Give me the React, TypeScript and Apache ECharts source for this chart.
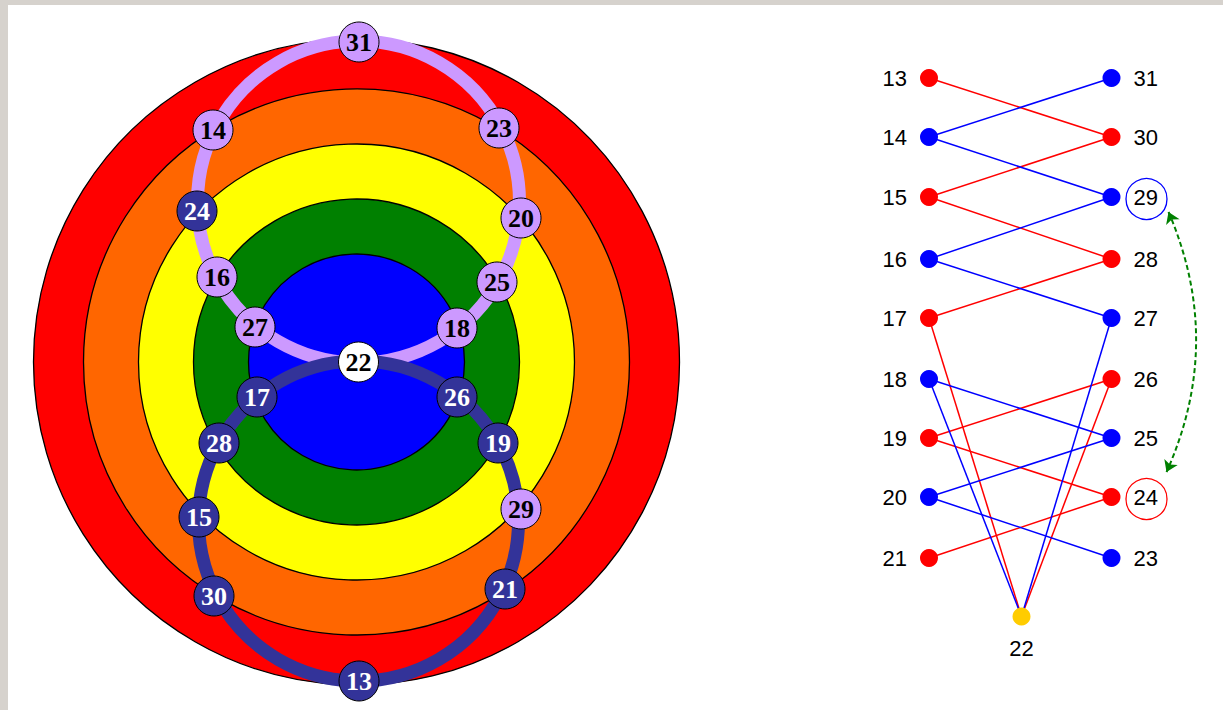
import React, { useEffect, useRef } from "react";
import * as echarts from "echarts";

const W = 1223;
const H = 710;

// ---------- Left diagram: concentric rings ----------
const ringCenter = [356.5, 362];
const ringRadii = [323, 273, 218, 163, 108];
const ringColors = ["#ff0000", "#ff6600", "#ffff00", "#008000", "#0000ff"];

// ---------- Left diagram: the two loops (circles) ----------
const loopCenterX = [358.5, 358.5];
const loopCenterY = [202, 521];
const loopRadius = [161, 160];
const loopNames = ["purple", "navy"];

// ---------- Left diagram: nodes on the two loops ----------
const leftNodeIds = [31, 14, 23, 24, 20, 16, 25, 27, 18, 22, 17, 26, 28, 19, 15, 29, 30, 21, 13];
const leftNodeX = [359, 213, 499, 197, 521, 217, 497, 255, 457, 358.5, 257, 457, 219, 498, 199, 521, 214, 505, 359];
const leftNodeY = [42, 130, 128, 211, 218, 277, 282, 327, 328, 362, 397, 397, 443, 443, 517, 509, 596, 589, 681];

const redGroup = [13, 15, 17, 19, 21, 30, 28, 26, 24];
const blueGroup = [14, 16, 18, 20, 31, 29, 27, 25, 23];
const centerId = 22;

// ---------- Right diagram ----------
const leftColumn = [13, 14, 15, 16, 17, 18, 19, 20, 21];
const rightColumn = [31, 30, 29, 28, 27, 26, 25, 24, 23];
const rowY = [78, 137, 197, 259, 318, 379, 438, 497, 558];
const leftColX = 929;
const rightColX = 1111.5;
const hubPos = [1021.5, 616.5];

const redEdges = [
  [13, 30], [15, 30], [15, 28], [17, 28], [17, 22],
  [19, 26], [19, 24], [21, 24], [26, 22],
];
const blueEdges = [
  [14, 31], [14, 29], [16, 29], [16, 27], [18, 25],
  [18, 22], [20, 25], [20, 23], [27, 22],
];
const circledIds = [29, 24];
const swapPair = [29, 24];

const PURPLE = "#cc99ff";
const NAVY = "#333399";
const RED = "#ff0000";
const BLUE = "#0000ff";
const loopColors = [PURPLE, NAVY];

function rightPos(id: number): number[] {
  if (id === centerId) return hubPos;
  let i = leftColumn.indexOf(id);
  if (i >= 0) return [leftColX, rowY[i]];
  i = rightColumn.indexOf(id);
  return [rightColX, rowY[i]];
}

function isRed(id: number) {
  return redGroup.indexOf(id) >= 0;
}

export default function App() {
  const ref = useRef<HTMLDivElement>(null);

  useEffect(() => {
    if (!ref.current) return;
    const chart = echarts.init(ref.current, undefined, { renderer: "svg" });

    const leftNodeData = leftNodeIds.map((id, i) => {
      let fill = PURPLE;
      let txt = "#000";
      if (id === centerId) {
        fill = "#ffffff";
      } else if (isRed(id)) {
        fill = NAVY;
        txt = "#ffffff";
      }
      return {
        name: String(id),
        value: [leftNodeX[i], leftNodeY[i]],
        itemStyle: { color: fill },
        label: { color: txt },
      };
    });

    const edgeData = (edges: number[][]) =>
      edges.map((e) => ({ coords: [rightPos(e[0]), rightPos(e[1])] }));

    const dotData = [
      ...leftColumn.map((id, i) => ({
        name: String(id),
        value: [leftColX, rowY[i]],
        itemStyle: { color: isRed(id) ? RED : BLUE },
        label: { position: "left" },
      })),
      ...rightColumn.map((id, i) => ({
        name: String(id),
        value: [rightColX, rowY[i]],
        itemStyle: { color: isRed(id) ? RED : BLUE },
        label: { position: "right" },
      })),
      {
        name: String(centerId),
        value: hubPos,
        itemStyle: { color: "#ffcc00" },
        label: { position: "bottom", distance: 12 },
      },
    ];

    const circleData = circledIds.map((id) => {
      const p = rightPos(id);
      return {
        value: [p[0] + 35, p[1] + 2],
        itemStyle: { borderColor: isRed(id) ? RED : BLUE },
      };
    });

    const a = rightPos(swapPair[0]);
    const b = rightPos(swapPair[1]);

    const option: any = {
      animation: false,
      backgroundColor: "#d6d2cd",
      graphic: [
        {
          type: "rect",
          shape: { x: 8, y: 5, width: W - 8, height: H - 5 },
          style: { fill: "#ffffff" },
          z: -10,
          silent: true,
        },
      ],
      grid: { left: 0, right: 0, top: 0, bottom: 0 },
      xAxis: { type: "value", min: 0, max: W, show: false },
      yAxis: { type: "value", min: 0, max: H, inverse: true, show: false },
      series: [
        {
          type: "custom",
          name: "rings",
          coordinateSystem: "cartesian2d",
          silent: true,
          z: 1,
          data: ringRadii.map((r, i) => [i, r]),
          renderItem: (params: any, api: any) => {
            const idx = params.dataIndex;
            const c = api.coord(ringCenter);
            const rr = api.size([api.value(1), 0])[0];
            return {
              type: "circle",
              shape: { cx: c[0], cy: c[1], r: rr },
              style: { fill: ringColors[idx], stroke: "#000", lineWidth: 1.3 },
            };
          },
        },
        {
          type: "custom",
          name: "loops",
          coordinateSystem: "cartesian2d",
          silent: true,
          z: 2,
          data: loopNames.map((_n, i) => [loopCenterX[i], loopCenterY[i], loopRadius[i]]),
          renderItem: (params: any, api: any) => {
            const idx = params.dataIndex;
            const c = api.coord([api.value(0), api.value(1)]);
            const rr = api.size([api.value(2), 0])[0];
            return {
              type: "circle",
              shape: { cx: c[0], cy: c[1], r: rr },
              style: { fill: "none", stroke: loopColors[idx], lineWidth: 13 },
            };
          },
        },
        {
          type: "scatter",
          z: 4,
          symbol: "circle",
          symbolSize: 40,
          silent: true,
          itemStyle: { borderColor: "#000", borderWidth: 1, opacity: 1 },
          label: {
            show: true,
            position: "inside",
            formatter: "{b}",
            fontFamily: "Liberation Serif",
            fontWeight: "bold",
            fontSize: 26,
          },
          data: leftNodeData,
        },
        {
          type: "lines",
          coordinateSystem: "cartesian2d",
          z: 3,
          silent: true,
          lineStyle: { color: RED, width: 1.5, opacity: 1 },
          data: edgeData(redEdges),
        },
        {
          type: "lines",
          coordinateSystem: "cartesian2d",
          z: 3,
          silent: true,
          lineStyle: { color: BLUE, width: 1.5, opacity: 1 },
          data: edgeData(blueEdges),
        },
        {
          type: "scatter",
          z: 5,
          symbol: "circle",
          symbolSize: 18,
          silent: true,
          itemStyle: { opacity: 1 },
          label: {
            show: true,
            formatter: "{b}",
            distance: 13,
            fontFamily: "Liberation Sans",
            fontSize: 22,
            color: "#000",
          },
          data: dotData,
        },
        {
          type: "scatter",
          z: 5,
          symbol: "circle",
          symbolSize: 41,
          silent: true,
          itemStyle: { color: "rgba(0,0,0,0)", borderWidth: 1.3, opacity: 1 },
          data: circleData,
        },
        {
          type: "lines",
          coordinateSystem: "cartesian2d",
          z: 6,
          silent: true,
          symbol: ["arrow", "arrow"],
          symbolSize: 11,
          lineStyle: { color: "#008000", width: 2, type: [5, 3], curveness: 0.22, opacity: 1 },
          data: [{ coords: [[a[0] + 57, a[1] + 15], [b[0] + 55, b[1] - 25]] }],
        },
      ],
    };

    chart.setOption(option);
    return () => chart.dispose();
  }, []);

  return (
    <div
      ref={ref}
      style={{ position: "fixed", left: 0, top: 0, width: W, height: H }}
    />
  );
}
